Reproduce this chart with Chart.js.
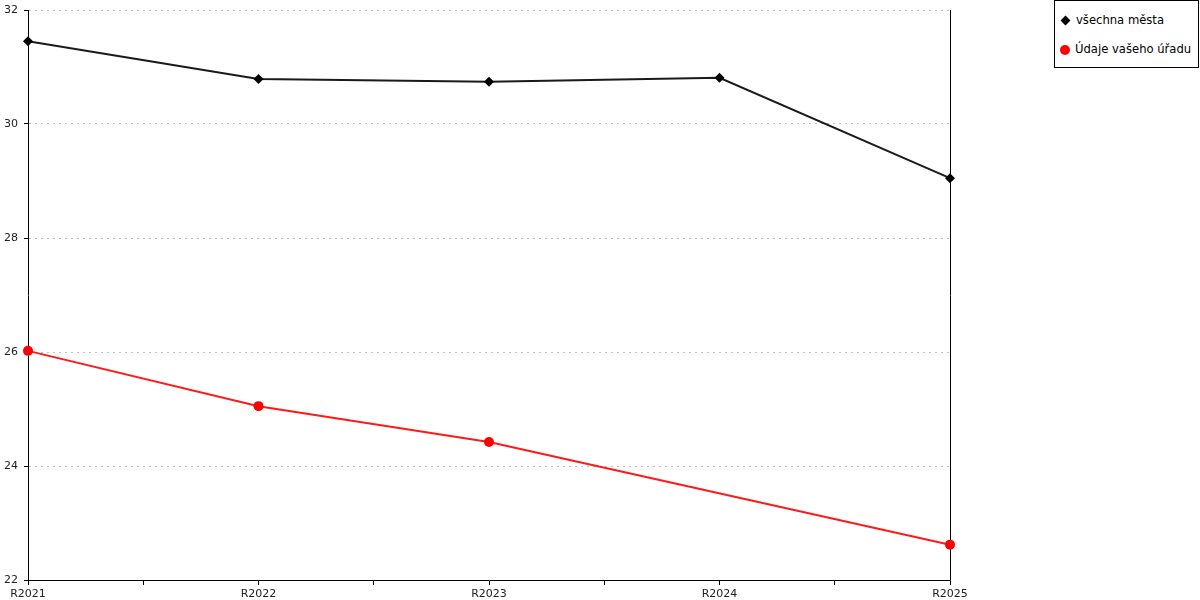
<!DOCTYPE html>
<html><head><meta charset="utf-8">
<script src="https://cdn.jsdelivr.net/npm/chart.js@4"></script>
<style>
html,body{margin:0;padding:0;background:#fff;}
#wrap{position:relative;width:1200px;height:600px;}
#legend{position:absolute;left:1054px;top:0;width:143px;height:66px;border:1px solid #000;font-family:"DejaVu Sans",sans-serif;font-size:11.6px;color:#000;background:#fff;}
.item{position:absolute;left:5px;height:14px;line-height:14px;white-space:nowrap;}
.mk{display:inline-block;vertical-align:middle;margin-right:6px;}
.dia{width:7px;height:7px;background:#000;transform:rotate(45deg);margin-left:2px;margin-right:7px;}
.cir{width:10px;height:10px;border-radius:50%;background:#ff0000;margin-right:5px;}
</style></head><body>
<div id="wrap">
<canvas id="c" width="1200" height="600"></canvas>
<div id="legend">
  <div class="item" style="top:12px"><span class="mk dia"></span>všechna města</div>
  <div class="item" style="top:41px"><span class="mk cir"></span>Údaje vašeho úřadu</div>
</div>
</div>
<script>
const categories = ['R2021','R2022','R2023','R2024','R2025'];
const allCities = [31.45, 30.79, 30.74, 30.81, 29.05];
const yourOffice = [26.02, 25.05, 24.42, null, 22.62];
const yTicks = [22, 24, 26, 28, 30, 32];
const seriesNames = ['všechna města', 'Údaje vašeho úřadu'];

const toPts = arr => arr.map((v, i) => ({x: i, y: v}));

new Chart(document.getElementById('c'), {
  type: 'line',
  data: {
    datasets: [
      {label: seriesNames[0], data: toPts(allCities), borderColor: '#1a1a1a', backgroundColor: '#000',
       borderWidth: 2, pointStyle: 'rectRot', pointRadius: 5, pointBorderWidth: 0, tension: 0, clip: false},
      {label: seriesNames[1], data: toPts(yourOffice), borderColor: '#ff1a1a', backgroundColor: '#ff0000',
       borderWidth: 2, pointStyle: 'circle', pointRadius: 5, pointBorderWidth: 0, spanGaps: true, tension: 0, clip: false}
    ]
  },
  options: {
    responsive: false,
    animation: false,
    events: [],
    layout: {padding: {top: 10, right: 250, left: 0, bottom: 0}},
    plugins: {legend: {display: false}, tooltip: {enabled: false}},
    scales: {
      x: {
        type: 'linear', min: 0, max: categories.length - 1,
        afterBuildTicks: s => { s.ticks = []; for (let v = 0; v <= categories.length - 1; v += 0.5) s.ticks.push({value: v}); },
        afterFit: s => { s.height = 20; s.paddingLeft = 0; s.paddingRight = 0; },
        ticks: {
          autoSkip: false, maxRotation: 0, padding: 3, color: '#222',
          font: {family: 'DejaVu Sans', size: 11},
          callback: v => Number.isInteger(v) ? categories[v] : ''
        },
        grid: {drawOnChartArea: false, drawTicks: true, tickLength: 5, tickColor: '#000', color: '#000'},
        border: {display: true, color: '#000', width: 1}
      },
      y: {
        min: 22, max: 32,
        afterBuildTicks: s => { s.ticks = yTicks.map(v => ({value: v})); },
        afterFit: s => { s.width = 28; s.paddingTop = 0; s.paddingBottom = 0; },
        ticks: {padding: 6, color: '#222', font: {family: 'DejaVu Sans', size: 11}},
        grid: {color: '#c0c0c0', lineWidth: 1, tickLength: 4, tickColor: '#000', drawTicks: true},
        border: {display: true, color: '#000', width: 1, dash: [2, 4]}
      },
      y2: {
        position: 'right', min: 22, max: 32,
        afterFit: s => { s.width = 0; s.paddingTop = 0; s.paddingBottom = 0; },
        ticks: {display: false},
        grid: {display: false},
        border: {display: true, color: '#000', width: 1}
      }
    }
  }
});
</script>
</body></html>
